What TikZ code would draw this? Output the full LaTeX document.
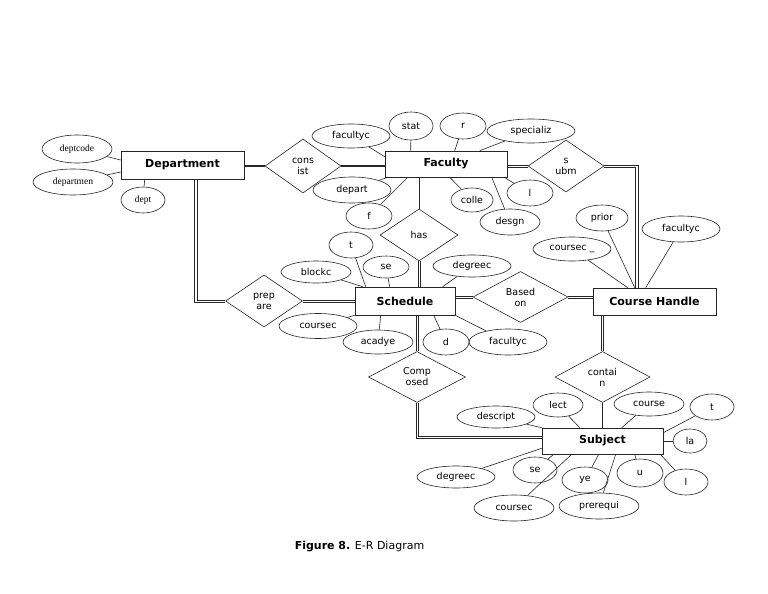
\documentclass[tikz,border=0pt]{standalone}
\usepackage{fontspec}
\setmainfont{DejaVu Sans}
\newfontfamily\serifsmall{Liberation Serif}
\usetikzlibrary{shapes.geometric,calc}
\begin{document}
\begin{tikzpicture}[x=1pt,y=-1pt,
 ent/.style={draw,rectangle,inner sep=0,font=\fontsize{11}{13}\selectfont\bfseries},
 att/.style={draw,ellipse,inner sep=0,font=\fontsize{9.5}{11}\selectfont},
 satt/.style={draw,ellipse,inner sep=0,font=\serifsmall\fontsize{9.5}{11}\selectfont},
 rel/.style={draw,diamond,inner sep=0,aspect=1.8,font=\fontsize{9.5}{11}\selectfont,align=center},
 dblh/.style={preaction={draw,transform canvas={yshift=1.1pt}},postaction={draw,transform canvas={yshift=-1.1pt}}},
 dblv/.style={preaction={draw,transform canvas={xshift=1.1pt}},postaction={draw,transform canvas={xshift=-1.1pt}}},
 thk/.style={line width=2pt},
 line width=0.6pt, draw=black!85]
\useasboundingbox (0,0) rectangle (768,594);
% entities
\node[ent,minimum width=123,minimum height=28] (dep) at (182.5,165) {Department};
\node[ent,minimum width=122,minimum height=26] (fac) at (446,164) {Faculty};
\node[ent,minimum width=100,minimum height=28] (sch) at (405,301) {Schedule};
\node[ent,minimum width=123,minimum height=27] (ch) at (654.5,301.5) {Course Handle};
\node[ent,minimum width=121,minimum height=26] (sub) at (602.5,441) {Subject};
% relationships
\node[rel,minimum width=76,minimum height=54] (cons) at (303,166) {cons\\ist};
\node[rel,minimum width=76,minimum height=52] (subm) at (566,166) {s\\ubm};
\node[rel,minimum width=78,minimum height=52] (has) at (419,235) {has};
\node[rel,minimum width=77,minimum height=52] (prep) at (264,301) {prep\\are};
\node[rel,minimum width=95,minimum height=51] (based) at (520.5,297) {Based\\on};
\node[rel,minimum width=97,minimum height=51] (comp) at (417,377) {Comp\\osed};
\node[rel,minimum width=95,minimum height=51] (contain) at (602.5,377) {contai\\n};
% attributes
\node[satt,minimum width=70,minimum height=28] (deptcode) at (77,149) {deptcode};
\node[satt,minimum width=80,minimum height=26] (departmen) at (73,182) {departmen};
\node[satt,minimum width=44,minimum height=26] (dept) at (143,200) {dept};
\node[att,minimum width=78,minimum height=24] (facultyca) at (351,136) {facultyc};
\node[att,minimum width=44,minimum height=28] (stat) at (411,126) {stat};
\node[att,minimum width=46,minimum height=26] (r) at (463,126) {r};
\node[att,minimum width=88,minimum height=24] (specializ) at (531,131) {specializ};
\node[att,minimum width=78,minimum height=26] (depart) at (352,190) {depart};
\node[att,minimum width=46,minimum height=26] (f) at (369,216) {f};
\node[att,minimum width=42,minimum height=24] (colle) at (472,200) {colle};
\node[att,minimum width=46,minimum height=26] (la1) at (530,193) {l};
\node[att,minimum width=60,minimum height=26] (desgn) at (510,222) {desgn};
\node[att,minimum width=52,minimum height=26] (prior) at (602,218) {prior};
\node[att,minimum width=78,minimum height=26] (facultycb) at (681,229) {facultyc};
\node[att,minimum width=78,minimum height=24] (coursecu) at (572,249) {coursec \_};
\node[att,minimum width=44,minimum height=26] (ta) at (351,245) {t};
\node[att,minimum width=70,minimum height=22] (blockc) at (316,272) {blockc};
\node[att,minimum width=46,minimum height=22] (sea) at (386,267) {se};
\node[att,minimum width=78,minimum height=22] (degreeca) at (472,266) {degreec};
\node[att,minimum width=78,minimum height=25] (courseca) at (318,326) {coursec};
\node[att,minimum width=70,minimum height=24] (acadye) at (378,342) {acadye};
\node[att,minimum width=46,minimum height=26] (d) at (446,342) {d};
\node[att,minimum width=78,minimum height=26] (facultycc) at (508,342) {facultyc};
\node[att,minimum width=78,minimum height=22] (descript) at (496,417) {descript};
\node[att,minimum width=50,minimum height=24] (lect) at (558,405) {lect};
\node[att,minimum width=70,minimum height=24] (course) at (649,404) {course};
\node[att,minimum width=44,minimum height=26] (tb) at (712,407) {t};
\node[att,minimum width=34,minimum height=24] (lab) at (690,441) {la};
\node[att,minimum width=44,minimum height=26] (lb) at (686,482) {l};
\node[att,minimum width=46,minimum height=28] (u) at (640,473) {u};
\node[att,minimum width=46,minimum height=26] (ye) at (585,480) {ye};
\node[att,minimum width=80,minimum height=26] (prerequi) at (599,506) {prerequi};
\node[att,minimum width=44,minimum height=26] (seb) at (535,470) {se};
\node[att,minimum width=78,minimum height=22] (degreecb) at (456,477) {degreec};
\node[att,minimum width=80,minimum height=26] (coursecb) at (514,508) {coursec};
% attribute connectors
\draw (deptcode) -- ($(dep.west)+(0,-5)$);
\draw (departmen) -- ($(dep.west)+(0,7)$);
\draw (dept) -- ($(dep.south west)+(24,0)$);
\draw (facultyca) -- ($(fac.north west)+(0,6)$);
\draw (stat) -- ($(fac.north west)+(26,0)$);
\draw (r) -- ($(fac.north west)+(70,0)$);
\draw (specializ) -- ($(fac.north west)+(95,0)$);
\draw (depart) -- ($(fac.south west)+(3,0)$);
\draw (f) -- ($(fac.south west)+(23,0)$);
\draw (colle) -- ($(fac.south west)+(65,0)$);
\draw (desgn) -- ($(fac.south west)+(107,0)$);
\draw (la1) -- ($(fac.south east)+(-3,0)$);
\draw (prior) -- ($(ch.north west)+(42,0)$);
\draw (facultycb) -- ($(ch.north west)+(53,0)$);
\draw (coursecu) -- ($(ch.north west)+(35,0)$);
\draw (ta) -- ($(sch.north west)+(11,0)$);
\draw (blockc) -- ($(sch.north west)+(8,0)$);
\draw (sea) -- ($(sch.north west)+(35,0)$);
\draw (degreeca) -- ($(sch.north west)+(88,0)$);
\draw (courseca) -- (sch.south west);
\draw (acadye) -- ($(sch.south west)+(26,0)$);
\draw (d) -- ($(sch.south west)+(79,0)$);
\draw (facultycc) -- (sch.south east);
\draw (descript) -- (sub.north west);
\draw (lect) -- ($(sub.north west)+(38,0)$);
\draw (course) -- ($(sub.north west)+(80,0)$);
\draw (tb) -- ($(sub.north east)+(0,5)$);
\draw (lab) -- (sub.east);
\draw (lb) -- ($(sub.south east)+(-3,0)$);
\draw (u) -- ($(sub.south west)+(93,0)$);
\draw (ye) -- ($(sub.south west)+(57,0)$);
\draw (prerequi) -- ($(sub.south west)+(74,0)$);
\draw (coursecb) -- ($(sub.south west)+(30,0)$);
\draw (seb) -- ($(sub.south west)+(12,0)$);
\draw (degreecb) -- ($(sub.south west)+(0,-6)$);
% relationship connectors
\draw[thk] (cons.west -| dep.east) -- (cons.west);
\draw[thk] (cons.east) -- (cons.east -| fac.west);
\draw (has.north |- fac.south) -- (has.north);
\draw (contain.south) -- (contain.south |- sub.north);
\path[dblh] (subm.west -| fac.east) -- (subm.west);
\path[dblh] (prep.east) -- (sch.west);
\path[dblv] (has.south) -- (has.south |- sch.north);
\path[dblh] (sch.east |- based.west) -- (based.west);
\path[dblh] (based.east) -- (based.east -| ch.west);
\path[dblv] (comp.north |- sch.south) -- (comp.north);
\path[dblv] (contain.north |- ch.south) -- (contain.north);
% L-shaped double connectors
\draw ($(dep.south west)+(73.9,0)$) |- ($(prep.west)+(0,1.1)$);
\draw ($(dep.south west)+(76.1,0)$) |- ($(prep.west)+(0,-1.1)$);
\draw ($(comp.south)+(-1.1,0)$) |- ($(sub.west)+(0,-2.9)$);
\draw ($(comp.south)+(1.1,0)$) |- ($(sub.west)+(0,-5.1)$);
\draw ($(subm.east)+(0,-1.1)$) -| ($(ch.north west)+(45.1,0)$);
\draw ($(subm.east)+(0,1.1)$) -| ($(ch.north west)+(42.9,0)$);
% caption
\node[font=\fontsize{11}{13}\selectfont] (cap) at (359.5,547) {\textbf{Figure 8.} E-R Diagram};
\end{tikzpicture}
\end{document}
